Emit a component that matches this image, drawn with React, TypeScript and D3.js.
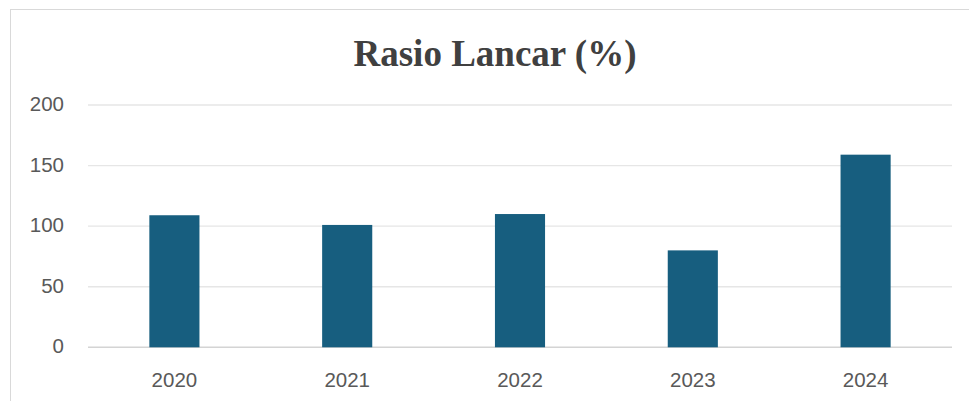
import { useRef, useEffect } from "react";
import * as d3 from "d3";

const years = ["2020", "2021", "2022", "2023", "2024"];
const values = [109, 101, 110, 80, 159];
const yTicks = [0, 50, 100, 150, 200];
const title = "Rasio Lancar (%)";

const App = () => {
  const svgRef = useRef<SVGSVGElement | null>(null);

  useEffect(() => {
    const width = 969;
    const height = 401;
    const svg = d3.select(svgRef.current);
    svg.selectAll("*").remove();

    const margin = { left: 88, right: 17, top: 105, bottom: 54 };

    // chart frame
    svg
      .append("rect")
      .attr("x", 10.5)
      .attr("y", 9.5)
      .attr("width", 970)
      .attr("height", 420)
      .attr("fill", "#fff")
      .attr("stroke", "#d9d9d9")
      .attr("stroke-width", 1);

    const x = d3
      .scaleBand()
      .domain(years)
      .range([margin.left, width - margin.right])
      .paddingInner(0.71)
      .paddingOuter(0.355);

    const y = d3
      .scaleLinear()
      .domain([0, 200])
      .range([height - margin.bottom + 0.3, margin.top]);

    // gridlines
    svg
      .append("g")
      .selectAll("line")
      .data(yTicks)
      .enter()
      .append("line")
      .attr("x1", margin.left)
      .attr("x2", width - margin.right)
      .attr("y1", (d) => y(d))
      .attr("y2", (d) => y(d))
      .attr("stroke", (d) => (d === 0 ? "#d4d4d4" : "#e6e6e6"))
      .attr("stroke-width", (d) => (d === 0 ? 1.5 : 1.3));

    // y labels
    svg
      .append("g")
      .selectAll("text")
      .data(yTicks)
      .enter()
      .append("text")
      .attr("x", 64)
      .attr("y", (d) => y(d) + 6)
      .attr("text-anchor", "end")
      .style("font-family", "Liberation Sans, Arial, sans-serif")
      .style("font-size", "20.5px")
      .attr("fill", "#595959")
      .text((d) => d);

    // bars
    svg
      .append("g")
      .selectAll("rect")
      .data(values)
      .enter()
      .append("rect")
      .attr("x", (_d, i) => x(years[i]) as number)
      .attr("width", x.bandwidth())
      .attr("y", (d) => y(d))
      .attr("height", (d) => y(0) - y(d))
      .attr("fill", "#175e7f");

    // x labels
    svg
      .append("g")
      .selectAll("text")
      .data(years)
      .enter()
      .append("text")
      .attr("x", (d) => (x(d) as number) + x.bandwidth() / 2)
      .attr("y", 387)
      .attr("text-anchor", "middle")
      .style("font-family", "Liberation Sans, Arial, sans-serif")
      .style("font-size", "20.5px")
      .attr("fill", "#595959")
      .text((d) => d);

    // title
    svg
      .append("text")
      .attr("x", 495)
      .attr("y", 66)
      .attr("text-anchor", "middle")
      .style("font-family", "Liberation Serif, Times New Roman, serif")
      .style("font-weight", "bold")
      .style("font-size", "37px")
      .attr("fill", "#404040")
      .text(title);
  }, []);

  return (
    <svg
      ref={svgRef}
      width={969}
      height={401}
      style={{ position: "absolute", left: 0, top: 0, display: "block" }}
    />
  );
};

export default App;
